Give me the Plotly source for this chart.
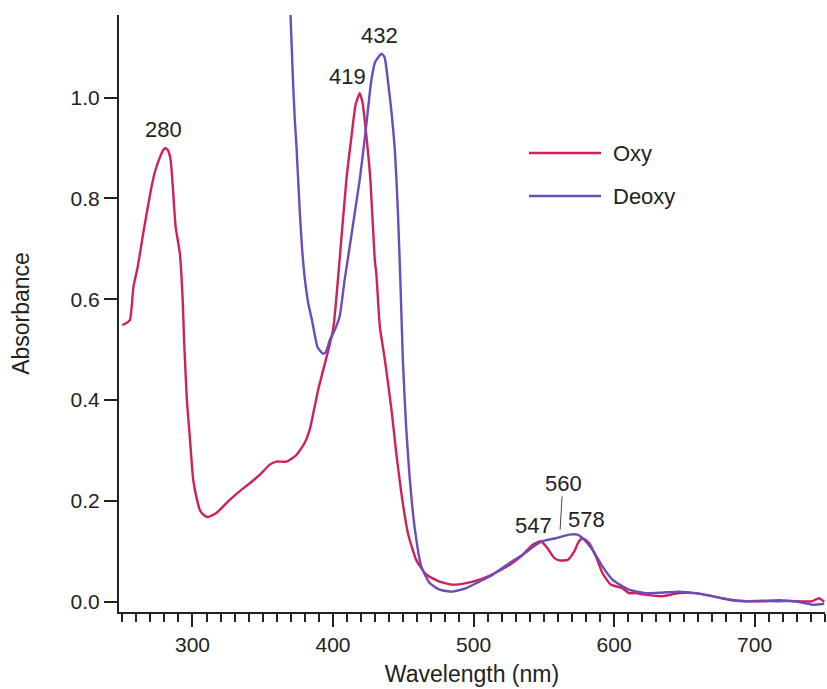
import plotly.graph_objects as go

# ---- data ----
oxy_nm = [250, 253, 255.5, 258, 261, 265, 270, 273, 277, 279.5, 281, 283, 284.5, 286, 288, 291, 293,
          294, 296, 298, 300.5, 303, 305.2, 308, 311, 317, 326.5, 333, 340.8, 348, 355, 359.7, 366.8,
          373.9, 379.8, 383.4, 389.4, 400, 403.5, 409.5, 413, 416, 419, 421, 423.3, 426.6, 429.7,
          430.8, 433.3, 436.9, 441.6, 445, 448.6, 453.3, 459.2, 466.3, 475.8, 485, 494.8, 504.2,
          511.6, 525.6, 535, 542, 548, 552.6, 557.4, 561, 567, 571.7, 575, 577.6, 582.3, 587, 591.7,
          597.6, 605.8, 610.7, 615.3, 622, 634.5, 646, 658, 670, 682, 693.7, 705.6, 717.4, 729, 741,
          745.8, 749.5]
oxy_abs = [0.549, 0.553, 0.559, 0.625, 0.664, 0.732, 0.811, 0.850, 0.883, 0.897, 0.900, 0.893, 0.875,
           0.823, 0.744, 0.691, 0.600, 0.520, 0.400, 0.330, 0.242, 0.205, 0.182, 0.172, 0.168, 0.176,
           0.202, 0.218, 0.235, 0.252, 0.272, 0.278, 0.278, 0.291, 0.315, 0.341, 0.420, 0.539, 0.639,
           0.837, 0.920, 0.985, 1.009, 0.990, 0.936, 0.837, 0.678, 0.652, 0.546, 0.480, 0.381, 0.295,
           0.216, 0.136, 0.083, 0.054, 0.040, 0.034, 0.037, 0.044, 0.052, 0.073, 0.093, 0.113, 0.120,
           0.106, 0.087, 0.082, 0.083, 0.100, 0.120, 0.126, 0.116, 0.090, 0.057, 0.034, 0.027, 0.017,
           0.017, 0.014, 0.011, 0.017, 0.017, 0.011, 0.004, 0.001, 0.001, 0.003, 0.001, 0.001, 0.007,
           0.000]

deoxy_nm = [369, 371.5, 372.8, 374, 376.4, 378, 380, 382.5, 385, 389, 392.9, 395, 397.8, 401.2, 404.7,
            408.3, 419, 423.3, 427.3, 430, 434.5, 436.6, 439, 443.8, 446.2, 447.9, 449.7, 452, 454.5,
            458, 462.8, 468.7, 475.8, 485, 494.8, 504.2, 511.6, 525.6, 535, 542, 549, 558.5, 568, 574,
            578.7, 584.6, 591.7, 598.8, 610.6, 622.6, 634, 646, 658, 670, 682, 694, 705, 717, 729, 741,
            749.5]
deoxy_abs = [1.22, 1.035, 0.956, 0.903, 0.771, 0.700, 0.639, 0.590, 0.559, 0.505, 0.492, 0.496, 0.520,
             0.539, 0.566, 0.639, 0.837, 0.936, 1.035, 1.071, 1.087, 1.081, 1.035, 0.903, 0.771, 0.639,
             0.480, 0.348, 0.248, 0.149, 0.070, 0.037, 0.024, 0.020, 0.027, 0.040, 0.050, 0.077, 0.093,
             0.108, 0.120, 0.126, 0.133, 0.133, 0.123, 0.103, 0.070, 0.044, 0.024, 0.017, 0.018, 0.020,
             0.017, 0.011, 0.004, 0.001, 0.002, 0.001, 0.001, -0.006, -0.004]

series_names = ["Oxy", "Deoxy"]
series_colors = ["#D0205A", "#6A4DB8"]

peak_labels = ["280", "419", "432", "547", "560", "578"]
peak_label_x = [279.3, 410.4, 432.8, 543.0, 564.3, 580.6]
peak_label_y = [0.936, 1.042, 1.123, 0.152, 0.235, 0.163]

FONT = "Liberation Sans, Arial, sans-serif"
INK = "#222222"

fig = go.Figure()
fig.add_trace(go.Scatter(x=oxy_nm, y=oxy_abs, mode="lines", name=series_names[0],
                         line=dict(color=series_colors[0], width=2.4, shape="spline", smoothing=0.5),
                         showlegend=False))
fig.add_trace(go.Scatter(x=deoxy_nm, y=deoxy_abs, mode="lines", name=series_names[1],
                         line=dict(color=series_colors[1], width=2.4, shape="spline", smoothing=0.5),
                         showlegend=False))

# peak labels
for t, x, y in zip(peak_labels, peak_label_x, peak_label_y):
    fig.add_annotation(x=x, y=y, xref="x", yref="y", text=t, showarrow=False,
                       font=dict(family=FONT, size=22, color=INK), xanchor="center", yanchor="middle")

# pointer for 560
fig.add_shape(type="line", xref="x", yref="y", x0=563.0, y0=0.209, x1=561.6, y1=0.143,
              line=dict(color="#444444", width=1))

# custom legend (long line samples like the reference)
leg_y = [0.7688, 0.6968]
for name, col, ly in zip(series_names, series_colors, leg_y):
    fig.add_shape(type="line", xref="paper", yref="paper", x0=0.5807, x1=0.6827, y0=ly, y1=ly,
                  line=dict(color=col, width=2.5))
    fig.add_annotation(x=0.6969, y=ly, xref="paper", yref="paper", text=name, showarrow=False,
                       xanchor="left", yanchor="middle",
                       font=dict(family=FONT, size=22, color=INK))

fig.update_layout(
    width=827, height=689,
    margin=dict(l=119, r=2, t=15, b=77),
    paper_bgcolor="white", plot_bgcolor="white",
    font=dict(family=FONT, size=21, color=INK),
    showlegend=False,
)
fig.update_xaxes(
    range=[247.7, 750.1], showgrid=False, zeroline=False,
    showline=True, linewidth=2, linecolor=INK,
    ticks="outside", ticklen=13, tickwidth=2, tickcolor=INK,
    tick0=0, dtick=100,
    minor=dict(ticks="outside", ticklen=8, tickwidth=2, tickcolor=INK, dtick=10, tick0=0, showgrid=False),
    tickfont=dict(family=FONT, size=21, color=INK),
    title=dict(text="Wavelength (nm)", font=dict(family=FONT, size=23, color=INK), standoff=11),
)
fig.update_yaxes(
    range=[-0.0204, 1.164], showgrid=False, zeroline=False,
    showline=True, linewidth=2, linecolor=INK,
    ticks="outside", ticklen=13, tickwidth=2, tickcolor=INK,
    tick0=0, dtick=0.2, tickformat=".1f",
    tickfont=dict(family=FONT, size=21, color=INK),
    title=dict(text="Absorbance", font=dict(family=FONT, size=23, color=INK), standoff=35),
)

fig.write_html("out.html")
